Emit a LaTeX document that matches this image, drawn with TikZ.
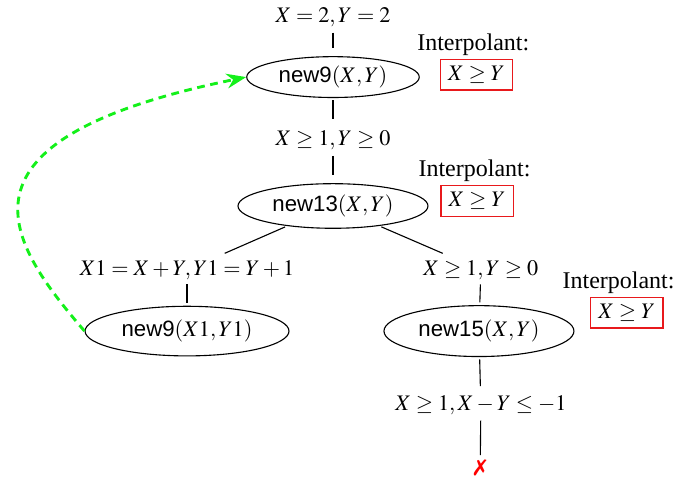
\documentclass[tikz,border=0pt]{standalone}
\usepackage{mathptmx}
\usepackage{pifont}
\usepackage{fontspec}
\setmainfont{Liberation Serif}
\setsansfont{Liberation Sans}
\usetikzlibrary{arrows.meta,positioning,shapes.geometric}
\definecolor{BoxRed}{HTML}{E8191C}
\definecolor{LoopGreen}{HTML}{14F01A}

\begin{document}
\begin{tikzpicture}[>=Stealth,
    state/.style={ellipse,draw,line width=0.5pt,inner xsep=3pt,inner ysep=2pt,font=\sffamily},
    guard/.style={inner sep=1.5pt},
    ipbox/.style={draw=BoxRed,line width=0.6pt,inner xsep=3.5pt,inner ysep=3pt},
    iptitle/.style={font=\fontsize{10.8}{13}\selectfont},
    link/.style={line width=0.5pt,shorten <=1pt,shorten >=3.5pt}]
  \useasboundingbox (-5.27,-4.34) rectangle (5.46,3.26);
  % tree
  \node[guard] (init) at (0,2.99) {$X=2,Y=2$};
  \node[state,inner ysep=1.5pt] (n9) at (0,2.04) {new9$(X,Y)$};
  \node[guard] (g1) at (0,1.04) {$X\geq 1,Y\geq 0$};
  \node[state,inner ysep=2.1pt] (n13) at (0,0) {new13$(X,Y)$};
  \node[guard] (gl) at (-2.31,-1.01) {$X1=X+Y,Y1=Y+1$};
  \node[guard] (gr) at (2.34,-1.01) {$X\geq 1,Y\geq 0$};
  \node[state,inner ysep=2.9pt] (n9b) at (-2.31,-1.98) {new9$(X1,Y1)$};
  \node[state,inner ysep=3.1pt] (n15) at (2.31,-1.98) {new15$(X,Y)$};
  \node[guard] (gb) at (2.34,-3.15) {$X\geq 1,X-Y\leq -1$};
  \node[inner sep=1pt,text=red] (fail) at (2.33,-4.15) {\ding{55}};
  \draw[link] (init) -- (n9);
  \draw[link] (n9) -- (g1);
  \draw[link] (g1) -- (n13);
  \draw[link] (n13) -- (gl);
  \draw[link] (n13) -- (gr);
  \draw[link,shorten <=0.5pt,shorten >=1.2pt] (gl) -- (n9b);
  \draw[link,shorten <=0.5pt,shorten >=1.2pt] (gr) -- (n15);
  \draw[link,shorten >=2.5pt] (n15) -- (gb);
  \draw[link,shorten >=1pt] (gb) -- (fail);
  % interpolants
  \node[ipbox] (ip1) at (2.27,2.08) {$X\geq Y$};
  \node[iptitle,above=-2pt of ip1,xshift=-0.05cm] (ip1t) {Interpolant:};
  \node[ipbox] (ip2) at (2.28,0.08) {$X\geq Y$};
  \node[iptitle,above=-2pt of ip2,xshift=-0.04cm] (ip2t) {Interpolant:};
  \node[ipbox] (ip3) at (4.65,-1.69) {$X\geq Y$};
  \node[iptitle,above=-2pt of ip3,xshift=-0.13cm] (ip3t) {Interpolant:};
  % back edge
  \draw[LoopGreen,line width=1.3pt,dash pattern=on 3.5pt off 2.5pt,->]
    (n9b.west) .. controls +(-1.2,1.4) and +(-4.9,-1.0) .. (n9.west);
\end{tikzpicture}
\end{document}
